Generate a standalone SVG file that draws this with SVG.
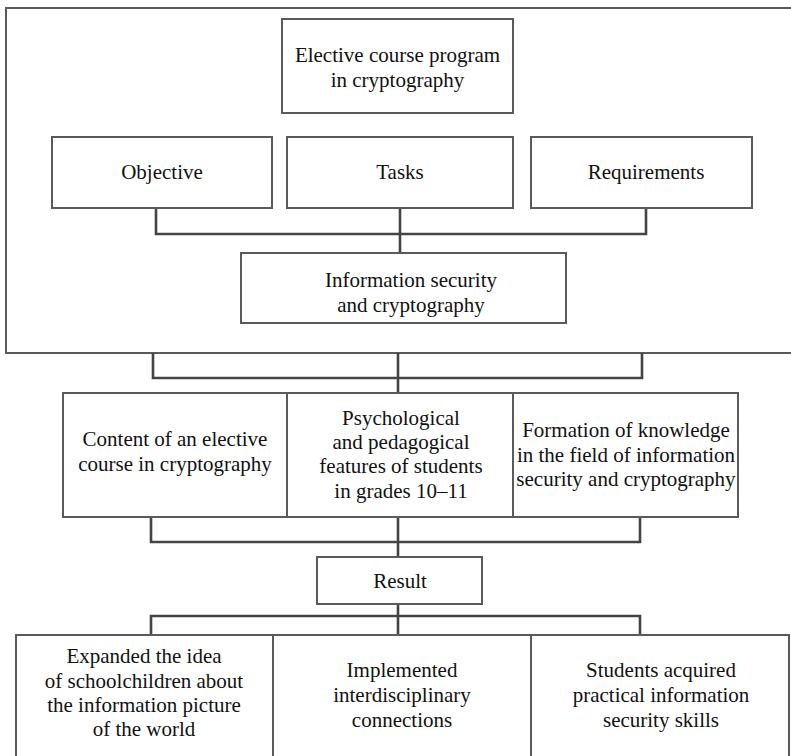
<svg xmlns="http://www.w3.org/2000/svg" width="791" height="756" viewBox="0 0 791 756" font-family="'Liberation Serif', 'Times New Roman', Times, serif">
<style>
.box{fill:#fff;stroke:#5a5a5a;stroke-width:2}
.frame{fill:none;stroke:#5a5a5a;stroke-width:2}
.conn{fill:none;stroke:#444;stroke-width:2.6}
text{font-family:'Liberation Serif','Times New Roman',Times,serif;font-size:21px;fill:#111;text-anchor:middle}
</style>
<rect width="791" height="756" fill="#fff"/>
<g id="frame"><rect class="frame" x="6" y="8" width="800" height="345"/></g>
<g id="connectors">
<path class="conn" d="M156 208V234H646V208M400 208V253"/>
<path class="conn" d="M153 353V378H642V353M398 353V393"/>
<path class="conn" d="M151 517V542H640V517M398 517V557"/>
<path class="conn" d="M398 604V635M151 635V616H640V635"/>
</g>
<g id="n-program"><rect class="box" x="282" y="19" width="231" height="94"/><text x="397.5" y="62">Elective course program</text><text x="397.5" y="87">in cryptography</text></g>
<g id="n-objective"><rect class="box" x="52" y="137" width="220" height="71"/><text x="162" y="179">Objective</text></g>
<g id="n-tasks"><rect class="box" x="287" y="137" width="226" height="71"/><text x="400" y="179">Tasks</text></g>
<g id="n-requirements"><rect class="box" x="531" y="137" width="221" height="71"/><text x="646" y="179">Requirements</text></g>
<g id="n-infosec"><rect class="box" x="241" y="253" width="325" height="70"/><text x="411" y="287">Information security</text><text x="411" y="312">and cryptography</text></g>
<g id="n-content"><rect class="box" x="63" y="393" width="224" height="124"/><text x="175" y="446">Content of an elective</text><text x="175" y="471">course in cryptography</text></g>
<g id="n-psych"><rect class="box" x="287" y="393" width="226" height="124"/><text x="401" y="425">Psychological</text><text x="401" y="449">and pedagogical</text><text x="401" y="473">features of students</text><text x="401" y="498">in grades 10–11</text></g>
<g id="n-formation"><rect class="box" x="513" y="393" width="225" height="124"/><text x="626" y="437">Formation of knowledge</text><text x="626" y="462">in the field of information</text><text x="626" y="486">security and cryptography</text></g>
<g id="n-result"><rect class="box" x="317" y="557" width="165" height="47"/><text x="400" y="588">Result</text></g>
<g id="n-expanded"><rect class="box" x="16" y="635" width="257" height="140"/><text x="144" y="663">Expanded the idea</text><text x="144" y="688">of schoolchildren about</text><text x="144" y="712">the information picture</text><text x="144" y="736">of the world</text></g>
<g id="n-implemented"><rect class="box" x="273" y="635" width="258" height="140"/><text x="402" y="677">Implemented</text><text x="402" y="702">interdisciplinary</text><text x="402" y="727">connections</text></g>
<g id="n-students"><rect class="box" x="531" y="635" width="258" height="140"/><text x="661" y="677">Students acquired</text><text x="661" y="702">practical information</text><text x="661" y="727">security skills</text></g>
</svg>
